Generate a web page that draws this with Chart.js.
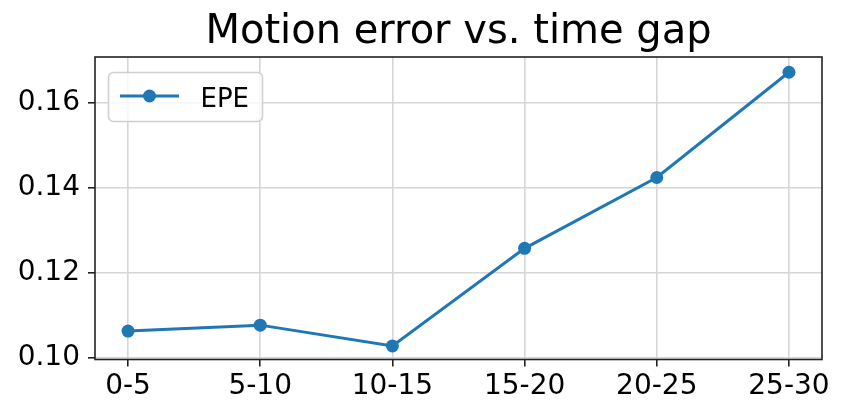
<!DOCTYPE html>
<html>
<head>
<meta charset="utf-8">
<script src="https://cdn.jsdelivr.net/npm/chart.js@4"></script>
<style>
  body { margin: 0; background: #fff; }
</style>
</head>
<body>
<canvas id="chart" width="847" height="417"></canvas>
<script>
// data
const gapLabels = ["0-5", "5-10", "10-15", "15-20", "20-25", "25-30"];
const epeValues = [0.1062, 0.1076, 0.1027, 0.1257, 0.1424, 0.1672];
const yTicks = [0.10, 0.12, 0.14, 0.16];

const lineColor = '#1f77b4';
const font = "'DejaVu Sans', sans-serif";

// matplotlib-like frame on all four sides
const framePlugin = {
    id: 'frame',
    afterDatasetsDraw(chart) {
        const a = chart.chartArea;
        const ctx = chart.ctx;
        ctx.save();
        ctx.strokeStyle = '#222';
        ctx.lineWidth = 1.6;
        ctx.strokeRect(a.left, a.top, a.right - a.left, a.bottom - a.top);
        ctx.restore();
    }
};

// legend with line + marker sample, upper left
const legendPlugin = {
    id: 'mplLegend',
    afterDraw(chart) {
        const a = chart.chartArea;
        const ctx = chart.ctx;
        const x = a.left + 13.5, y = a.top + 15.5, w = 154, h = 49, r = 5;
        ctx.save();
        ctx.beginPath();
        ctx.roundRect(x, y, w, h, r);
        ctx.fillStyle = 'rgba(255,255,255,0.8)';
        ctx.fill();
        ctx.strokeStyle = '#d0d0d0';
        ctx.lineWidth = 1.6;
        ctx.stroke();
        const cy = y + 23.5;
        ctx.beginPath();
        ctx.moveTo(x + 11.5, cy);
        ctx.lineTo(x + 70.5, cy);
        ctx.strokeStyle = lineColor;
        ctx.lineWidth = 3;
        ctx.stroke();
        ctx.beginPath();
        ctx.arc(x + 41, cy, 6.5, 0, Math.PI * 2);
        ctx.fillStyle = lineColor;
        ctx.fill();
        ctx.fillStyle = '#000';
        ctx.font = "26px " + font;
        ctx.textBaseline = 'alphabetic';
        ctx.textAlign = 'left';
        ctx.fillText('EPE', x + 92, y + 34);
        ctx.restore();
    }
};

new Chart(document.getElementById('chart'), {
    type: 'line',
    data: {
        datasets: [{
            label: 'EPE',
            data: epeValues.map((v, i) => ({ x: i, y: v })),
            borderColor: lineColor,
            backgroundColor: lineColor,
            borderWidth: 3,
            pointRadius: 6.5,
            pointHoverRadius: 6.5,
            pointBorderWidth: 0,
            tension: 0,
            fill: false
        }]
    },
    options: {
        responsive: false,
        animation: false,
        layout: { padding: { left: 0, right: 25, top: 0, bottom: 0 } },
        plugins: {
            legend: { display: false },
            tooltip: { enabled: false },
            title: {
                display: true,
                fullSize: false,
                text: 'Motion error vs. time gap',
                color: '#000',
                font: { family: font, size: 40, weight: 'normal', lineHeight: 1.2 },
                padding: { top: 9, bottom: 0 }
            }
        },
        scales: {
            x: {
                type: 'linear',
                min: -0.25,
                max: 5.25,
                afterBuildTicks: axis => { axis.ticks = gapLabels.map((_, i) => ({ value: i })); },
                afterFit: axis => { axis.height = 57.5; },
                ticks: {
                    callback: v => gapLabels[v],
                    color: '#000',
                    font: { family: font, size: 28 },
                    padding: 3,
                    maxRotation: 0,
                    autoSkip: false
                },
                grid: {
                    color: '#d6d6d6',
                    lineWidth: 1.6,
                    tickColor: '#222',
                    tickWidth: 1.6,
                    tickLength: 7
                },
                border: { display: false }
            },
            y: {
                min: 0.0995,
                max: 0.1708,
                afterBuildTicks: axis => { axis.ticks = yTicks.map(v => ({ value: v })); },
                afterFit: axis => { axis.width = 95; },
                ticks: {
                    callback: v => v.toFixed(2),
                    color: '#000',
                    font: { family: font, size: 28 },
                    padding: 8
                },
                grid: {
                    color: '#d6d6d6',
                    lineWidth: 1.6,
                    tickColor: '#222',
                    tickWidth: 1.6,
                    tickLength: 7
                },
                border: { display: false }
            }
        }
    },
    plugins: [framePlugin, legendPlugin]
});
</script>
</body>
</html>
